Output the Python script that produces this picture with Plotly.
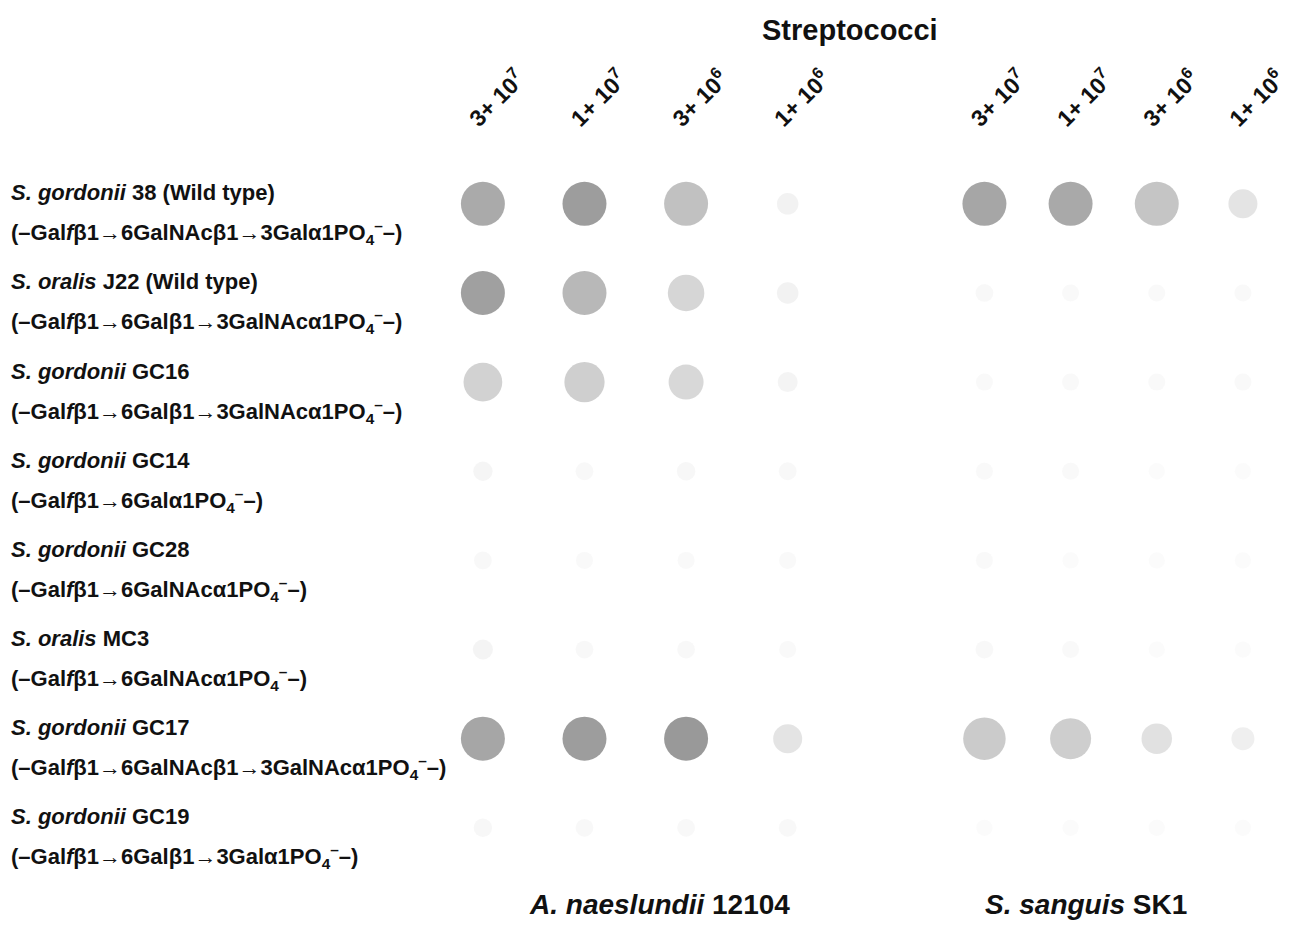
import plotly.graph_objects as go

# ---------------- data ----------------
columns = ["3e7", "1e7", "3e6", "1e6"]
column_labels = ["3+ 10<sup>7</sup>", "1+ 10<sup>7</sup>", "3+ 10<sup>6</sup>", "1+ 10<sup>6</sup>"]

strains = ["sg38", "soJ22", "sgGC16", "sgGC14", "sgGC28", "soMC3", "sgGC17", "sgGC19"]
strain_names = [
    "<i>S. gordonii</i> 38 (Wild type)",
    "<i>S. oralis</i> J22 (Wild type)",
    "<i>S. gordonii</i> GC16",
    "<i>S. gordonii</i> GC14",
    "<i>S. gordonii</i> GC28",
    "<i>S. oralis</i> MC3",
    "<i>S. gordonii</i> GC17",
    "<i>S. gordonii</i> GC19",
]
structures = [
    "(–Gal<i>f</i>β1→6GalNAcβ1→3Galα1PO<sub>4</sub><sup>–</sup>–)",
    "(–Gal<i>f</i>β1→6Galβ1→3GalNAcα1PO<sub>4</sub><sup>–</sup>–)",
    "(–Gal<i>f</i>β1→6Galβ1→3GalNAcα1PO<sub>4</sub><sup>–</sup>–)",
    "(–Gal<i>f</i>β1→6Galα1PO<sub>4</sub><sup>–</sup>–)",
    "(–Gal<i>f</i>β1→6GalNAcα1PO<sub>4</sub><sup>–</sup>–)",
    "(–Gal<i>f</i>β1→6GalNAcα1PO<sub>4</sub><sup>–</sup>–)",
    "(–Gal<i>f</i>β1→6GalNAcβ1→3GalNAcα1PO<sub>4</sub><sup>–</sup>–)",
    "(–Gal<i>f</i>β1→6Galβ1→3Galα1PO<sub>4</sub><sup>–</sup>–)",
]

# estimated spot intensity (0 = no binding, 1 = dark) per strain, per dilution
a_naeslundii = [
    [0.62, 0.72, 0.45, 0.10],
    [0.70, 0.52, 0.30, 0.10],
    [0.33, 0.35, 0.28, 0.08],
    [0.07, 0.05, 0.06, 0.05],
    [0.05, 0.04, 0.04, 0.04],
    [0.08, 0.05, 0.05, 0.04],
    [0.65, 0.72, 0.75, 0.20],
    [0.06, 0.05, 0.05, 0.05],
]
s_sanguis = [
    [0.65, 0.63, 0.42, 0.20],
    [0.05, 0.04, 0.04, 0.04],
    [0.04, 0.04, 0.04, 0.04],
    [0.04, 0.04, 0.03, 0.03],
    [0.04, 0.03, 0.03, 0.03],
    [0.05, 0.04, 0.03, 0.03],
    [0.38, 0.36, 0.22, 0.12],
    [0.03, 0.03, 0.03, 0.03],
]

# ---------------- figure ----------------
FONT = "Liberation Sans"
greys = [[0, "#ffffff"], [1, "#3c3c3c"]]


def spot_trace(matrix, xaxis):
    xs, ys, vals = [], [], []
    for i, s in enumerate(strains):
        for j, c in enumerate(columns):
            xs.append(c)
            ys.append(s)
            vals.append(matrix[i][j])
    sizes = [14 + 30 * min(1.0, v / 0.4) for v in vals]
    return go.Scatter(
        x=xs, y=ys, mode="markers", xaxis=xaxis, yaxis="y",
        marker=dict(symbol="circle", size=sizes, color=vals, colorscale=greys,
                    cmin=0, cmax=1, line=dict(width=0)),
        hoverinfo="skip", showlegend=False,
    )


fig = go.Figure([spot_trace(a_naeslundii, "x"), spot_trace(s_sanguis, "x2")])

xcommon = dict(type="category", categoryarray=columns, tickmode="array",
               tickvals=columns, ticktext=["<b>%s</b>" % t for t in column_labels],
               side="top", tickangle=-45, showgrid=False, zeroline=False,
               showline=False, ticks="", range=[-0.5, 3.5],
               ticklabelshift=-12, ticklabelstandoff=0,
               tickfont=dict(family=FONT, size=23, color="#111"), anchor="y")

fig.update_layout(
    width=1290, height=932,
    margin=dict(l=0, r=0, t=0, b=0),
    paper_bgcolor="white", plot_bgcolor="white",
    xaxis=dict(domain=[0.336, 0.652], **xcommon),
    xaxis2=dict(domain=[0.732, 1.0], **xcommon),
    yaxis=dict(type="category", categoryarray=strains, range=[7.5, -0.75],
               domain=[0.064, 0.853], showticklabels=False, showgrid=False,
               zeroline=False, showline=False, ticks=""),
)

ann = []
for s, name, struct in zip(strains, strain_names, structures):
    ann.append(dict(xref="paper", yref="y", x=0.007, y=s, xanchor="left",
                    yanchor="middle", yshift=11, showarrow=False,
                    text="<b>%s</b>" % name,
                    font=dict(family=FONT, size=22, color="#111")))
    ann.append(dict(xref="paper", yref="y", x=0.007, y=s, xanchor="left",
                    yanchor="middle", yshift=-29, showarrow=False,
                    text="<b>%s</b>" % struct,
                    font=dict(family=FONT, size=22, color="#111")))

ann.append(dict(xref="paper", yref="paper", x=0.661, y=0.968, xanchor="center",
                yanchor="middle", showarrow=False, text="<b>Streptococci</b>",
                font=dict(family=FONT, size=29, color="#111")))
ann.append(dict(xref="x domain", yref="paper", x=0.56, y=0.029, xanchor="center",
                yanchor="middle", showarrow=False,
                text="<b><i>A. naeslundii</i> 12104</b>",
                font=dict(family=FONT, size=28, color="#111")))
ann.append(dict(xref="x2 domain", yref="paper", x=0.42, y=0.029, xanchor="center",
                yanchor="middle", showarrow=False,
                text="<b><i>S. sanguis</i> SK1</b>",
                font=dict(family=FONT, size=28, color="#111")))
fig.update_layout(annotations=ann)

fig.write_html("out.html", config={"displayModeBar": False},
               post_script="document.body.style.margin='0';document.body.style.overflow='hidden';")
